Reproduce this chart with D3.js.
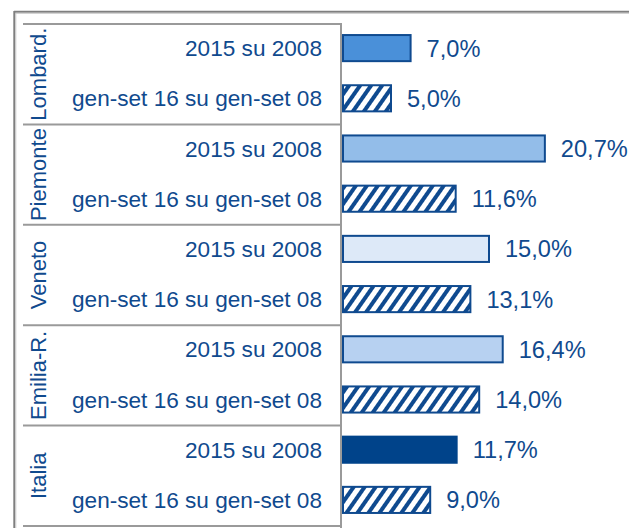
<!DOCTYPE html>
<html>
<head>
<meta charset="utf-8">
<script src="https://cdn.jsdelivr.net/npm/d3@7"></script>
<style>
  html, body { margin: 0; padding: 0; background: #fff; }
  svg { display: block; }
  text { font-family: "Liberation Sans", Arial, sans-serif; }
</style>
</head>
<body>
<script>
// ---- Data ----
const regions = ["Lombard.", "Piemonte", "Veneto", "Emilia-R.", "Italia"];
const seriesNames = ["2015 su 2008", "gen-set 16 su gen-set 08"];
const values2015 = [7.0, 20.7, 15.0, 16.4, 11.7];
const valuesGenSet = [5.0, 11.6, 13.1, 14.0, 9.0];

// ---- Styles ----
const regionFill = ["#4a90d9", "#93bde9", "#dde9f8", "#b7d1f1", "#00438a"];
const textColor = "#104a8e";
const darkBlue = "#0f4a8f";

const W = 629, H = 528;
const svg = d3.select("body").append("svg").attr("width", W).attr("height", H);

// hatch pattern
const defs = svg.append("defs");
const pat = defs.append("pattern")
  .attr("id", "hatch").attr("patternUnits", "userSpaceOnUse")
  .attr("width", 9).attr("height", 9)
  .attr("patternTransform", "rotate(35)");
pat.append("rect").attr("width", 9).attr("height", 9).attr("fill", "#fff");
pat.append("rect").attr("x", 0).attr("width", 4).attr("height", 9).attr("fill", darkBlue);

// rows
const rows = [];
regions.forEach((r, i) => {
  rows.push({ region: r, ri: i, series: 0, key: r + "|0", value: values2015[i] });
  rows.push({ region: r, ri: i, series: 1, key: r + "|1", value: valuesGenSet[i] });
});

const yGroup = d3.scaleBand().domain(regions).range([24, 526]);
const y = d3.scaleBand().domain(rows.map(d => d.key)).range([23, 525])
  .paddingInner(0.44).paddingOuter(0.22);
const x = d3.scaleLinear().domain([0, 25]).range([342, 342 + 245]);

const locale = d3.formatLocale({ decimal: ",", thousands: ".", grouping: [3], currency: ["", "€"] });
const fmt = locale.format(".1f");

// outer border
svg.append("line").attr("x1", 14).attr("x2", W).attr("y1", 11.8).attr("y2", 11.8)
  .attr("stroke", "#7f7f7f").attr("stroke-width", 2);
svg.append("line").attr("x1", 15).attr("x2", W).attr("y1", 13.3).attr("y2", 13.3)
  .attr("stroke", "#c8c8c8").attr("stroke-width", 1);
svg.append("line").attr("x1", 14.3).attr("x2", 14.3).attr("y1", 11).attr("y2", H)
  .attr("stroke", "#7f7f7f").attr("stroke-width", 2);
svg.append("line").attr("x1", 15.8).attr("x2", 15.8).attr("y1", 13).attr("y2", H)
  .attr("stroke", "#c8c8c8").attr("stroke-width", 1);

// table lines
const tableLines = regions.map(r => yGroup(r)).concat([yGroup.range()[1]]);
svg.append("g").selectAll("line").data(tableLines).join("line")
  .attr("x1", 23).attr("x2", 341)
  .attr("y1", d => d).attr("y2", d => d)
  .attr("stroke", "#9a9a9a").attr("stroke-width", 2);
svg.append("line").attr("x1", 341).attr("x2", 341).attr("y1", 23).attr("y2", H)
  .attr("stroke", "#9a9a9a").attr("stroke-width", 2);

// region labels (rotated)
svg.append("g").selectAll("text").data(regions).join("text")
  .attr("transform", d => `translate(46,${yGroup(d) + yGroup.bandwidth() / 2}) rotate(-90)`)
  .attr("text-anchor", "middle")
  .attr("font-size", 22)
  .attr("fill", textColor)
  .text(d => d);

// category labels
svg.append("g").selectAll("text").data(rows).join("text")
  .attr("x", 322)
  .attr("y", d => y(d.key) + y.bandwidth() / 2 + 8)
  .attr("text-anchor", "end")
  .attr("font-size", 22.6)
  .attr("fill", textColor)
  .text(d => seriesNames[d.series]);

// bars
svg.append("g").selectAll("rect").data(rows).join("rect")
  .attr("x", x(0) + 1)
  .attr("y", d => y(d.key) + 1)
  .attr("width", d => x(d.value) - x(0) - 1)
  .attr("height", y.bandwidth() - 2)
  .attr("fill", d => d.series === 0 ? regionFill[d.ri] : "url(#hatch)")
  .attr("stroke", d => d.series === 0 && d.ri === 4 ? regionFill[d.ri] : darkBlue)
  .attr("stroke-width", 2);

// value labels
svg.append("g").selectAll("text").data(rows).join("text")
  .attr("x", d => x(d.value) + 16)
  .attr("y", d => y(d.key) + y.bandwidth() / 2 + 8.5)
  .attr("font-size", 23.6)
  .attr("fill", textColor)
  .text(d => fmt(d.value) + "%");
</script>
</body>
</html>
